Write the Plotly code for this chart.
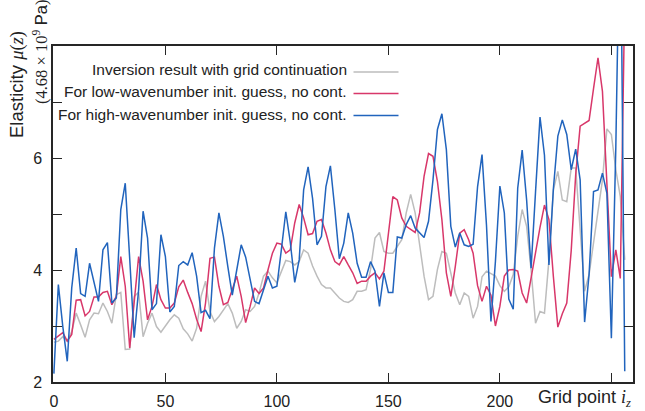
import plotly.graph_objects as go

# ---------------- data ----------------
grid_points = list(range(0, 257, 2))

gray_vals = [
    2.71, 2.73, 2.81, 2.73, 2.90, 3.23, 3.02, 2.80, 3.11, 3.23,
    3.22, 3.41, 3.26, 3.05, 3.56, 3.60, 2.58, 2.59, 3.53, 3.60,
    2.81, 3.05, 3.23, 2.99, 2.89, 3.01, 3.11, 3.20, 3.14, 2.95,
    2.86, 2.73, 2.96, 3.53, 3.80, 3.26, 3.08, 3.17, 3.29, 3.40,
    3.23, 2.96, 3.08, 3.29, 3.26, 3.35, 3.59, 3.89, 3.98, 3.86,
    3.77, 3.96, 4.17, 4.15, 4.09, 4.15, 4.36, 4.30, 4.07, 3.89,
    3.74, 3.68, 3.68, 3.59, 3.50, 3.44, 3.42, 3.47, 3.62, 3.62,
    3.65, 4.01, 4.57, 4.67, 4.33, 4.30, 4.30, 4.42, 4.54, 5.02,
    5.35, 5.02, 4.48, 3.89, 3.47, 3.53, 4.01, 4.33, 4.30, 3.95,
    3.59, 3.38, 3.59, 3.53, 3.14, 3.35, 3.88, 3.98, 3.94, 3.89,
    3.72, 3.62, 3.70, 3.92, 4.60, 5.08, 4.78, 4.00, 3.05, 3.26,
    3.23, 4.18, 5.43, 5.76, 5.25, 5.22, 5.82, 5.82, 4.72, 3.62,
    3.92, 4.48, 5.02, 5.61, 6.52, 6.42, 5.79, 5.31, 4.18,
]

pink_vals = [
    2.76, 2.82, 2.88, 2.73, 2.85, 3.46, 3.47, 3.18, 3.26, 3.52,
    3.52, 3.60, 3.62, 3.38, 3.53, 4.24, 3.71, 2.61, 3.40, 4.24,
    3.80, 3.11, 3.35, 3.74, 3.47, 3.32, 3.32, 3.41, 3.70, 3.82,
    3.60, 3.40, 3.12, 2.90, 3.41, 4.21, 4.23, 3.71, 3.38, 3.42,
    3.65, 3.89, 3.53, 3.06, 3.35, 3.68, 3.58, 3.68, 4.00, 4.30,
    4.48, 4.46, 4.30, 4.36, 4.84, 5.17, 4.93, 4.63, 4.65, 4.87,
    4.90, 4.66, 4.36, 4.15, 4.09, 4.24, 4.09, 3.95, 3.76, 3.80,
    3.80, 3.89, 3.95, 3.84, 3.98, 4.66, 5.31, 5.25, 4.93, 4.78,
    4.72, 4.67, 5.02, 5.67, 6.08, 6.03, 5.58, 4.90, 3.95, 3.53,
    4.06, 4.66, 4.72, 4.54, 4.30, 3.72, 3.44, 3.71, 3.55, 3.00,
    3.35, 3.89, 4.00, 4.01, 3.98, 3.59, 3.41, 3.88, 4.33, 4.76,
    5.16, 4.90, 3.88, 2.98, 3.22, 3.41, 4.35, 5.70, 6.57, 6.62,
    6.67, 7.24, 7.79, 7.19, 5.45, 3.88, 4.36, 3.85, 8.90,
]

blue_vals = [
    2.15, 3.74, 2.99, 2.37, 3.68, 4.39, 3.58, 3.53, 4.12, 3.80,
    3.44, 4.36, 4.49, 3.41, 3.50, 5.08, 5.55, 4.20, 2.79, 3.65,
    5.05, 4.57, 3.29, 3.40, 4.63, 4.24, 3.25, 3.35, 4.08, 4.15,
    4.09, 4.31, 3.89, 3.24, 3.28, 3.13, 4.39, 5.02, 4.60, 4.06,
    3.55, 4.00, 4.45, 4.23, 3.80, 3.44, 3.40, 3.65, 3.89, 3.68,
    3.71, 4.36, 5.04, 4.50, 3.78, 4.18, 5.43, 5.84, 5.28, 4.45,
    4.60, 5.49, 5.86, 5.08, 4.20, 4.48, 5.02, 4.66, 4.12, 3.87,
    3.87, 4.15, 3.98, 3.35, 3.95, 3.60, 3.60, 4.59, 4.57, 4.81,
    4.97, 4.75, 4.67, 4.58, 4.87, 5.61, 6.51, 6.79, 6.15, 4.78,
    4.41, 4.66, 4.45, 4.42, 4.46, 5.49, 6.06, 4.80, 3.08, 4.15,
    5.50, 5.02, 3.48, 3.30, 5.46, 6.14, 5.25, 4.03, 5.40, 6.73,
    6.05, 4.09, 5.45, 6.39, 6.68, 6.42, 5.79, 6.16, 5.61, 3.07,
    3.92, 5.40, 5.43, 5.73, 5.37, 2.78, 6.20, 10.90, 2.19,
]

series_names = [
    "Inversion result with grid continuation",
    "For low-wavenumber init. guess, no cont.",
    "For high-wavenumber init. guess, no cont.",
]
series_colors = ["#bdbdbd", "#d8376a", "#2164bd"]

x_tickvals = [0, 50, 100, 150, 200]
x_ticktext = ["0", "50", "100", "150", "200"]
y_tickvals = [2, 4, 6]
y_ticktext = ["2", "4", "6"]

# ---------------- layout geometry ----------------
W, H = 645, 411
L, R, T, B = 53, 12, 46, 29
PW, PH = W - L - R, H - T - B


def px_x(px):
    return (px - L) / PW


def px_y(py):
    return (H - B - py) / PH


SANS = "Liberation Sans, Arial, Helvetica, sans-serif"
SERIF = "Liberation Serif, DejaVu Serif, serif"
AXC = "#262626"

fig = go.Figure()
for vals, name, col in zip([gray_vals, pink_vals, blue_vals], series_names, series_colors):
    fig.add_trace(go.Scatter(
        x=grid_points, y=vals, mode="lines", name=name,
        line=dict(color=col, width=1.5), showlegend=False,
    ))

axis_common = dict(
    showgrid=False, zeroline=False, showline=True, linecolor=AXC, linewidth=1.5,
    mirror="allticks", ticks="inside", ticklen=9, tickwidth=1.3, tickcolor=AXC,
    tickfont=dict(family=SANS, size=16, color="#222"), automargin=False,
)

fig.update_layout(
    width=W, height=H,
    margin=dict(l=L, r=R, t=T, b=B, pad=0, autoexpand=False),
    paper_bgcolor="white", plot_bgcolor="white",
    xaxis=dict(range=[-0.4, 259.7], tickmode="array", tickvals=x_tickvals,
               ticktext=x_ticktext, ticklabelstandoff=4,
               minor=dict(dtick=50, tick0=0, ticks="inside", ticklen=9,
                          tickwidth=1.3, tickcolor=AXC, showgrid=False),
               **axis_common),
    yaxis=dict(range=[2, 8], tickmode="array", tickvals=y_tickvals,
               ticktext=y_ticktext, ticklabelstandoff=6,
               minor=dict(dtick=1, tick0=2, ticks="inside", ticklen=9,
                          tickwidth=1.3, tickcolor=AXC, showgrid=False),
               **axis_common),
    font=dict(family=SANS, color="#222"),
)

# legend (text right-aligned, sample line on the right)
legend_text_y = [69.5, 92.0, 114.5]
legend_line_y = [72.0, 93.5, 115.5]
for name, col, ty, ly in zip(series_names, series_colors, legend_text_y, legend_line_y):
    fig.add_annotation(
        xref="paper", yref="paper", x=px_x(348.5), y=px_y(ty),
        xanchor="right", yanchor="middle", showarrow=False,
        text=name, font=dict(family=SANS, size=15.5, color="#222"),
    )
    fig.add_shape(
        type="line", xref="paper", yref="paper",
        x0=px_x(353.5), x1=px_x(398.5), y0=px_y(ly), y1=px_y(ly),
        line=dict(color=col, width=1.5),
    )

# axis titles
fig.add_annotation(
    xref="paper", yref="paper", x=1.0, y=px_y(398.5), xanchor="right", yanchor="middle",
    showarrow=False,
    text=f"Grid point <span style='font-family:{SERIF}'><i>i</i><sub><i>z</i></sub></span>",
    font=dict(family=SANS, size=18, color="#222"),
)
fig.add_annotation(
    xref="paper", yref="paper", x=px_x(17), y=px_y(85), xanchor="center", yanchor="middle",
    showarrow=False, textangle=-90,
    text=f"Elasticity <span style='font-family:{SERIF}'><i>μ</i>(<i>z</i>)</span>",
    font=dict(family=SANS, size=18.5, color="#222"),
)
fig.add_annotation(
    xref="paper", yref="paper", x=px_x(40), y=px_y(52), xanchor="center", yanchor="middle",
    showarrow=False, textangle=-90,
    text=f"<span style='font-family:{SERIF}'>(4.68 × 10<sup>9</sup></span> Pa<span style='font-family:{SERIF}'>)</span>",
    font=dict(family=SANS, size=16.5, color="#222"),
)

fig.write_html("out.html")
